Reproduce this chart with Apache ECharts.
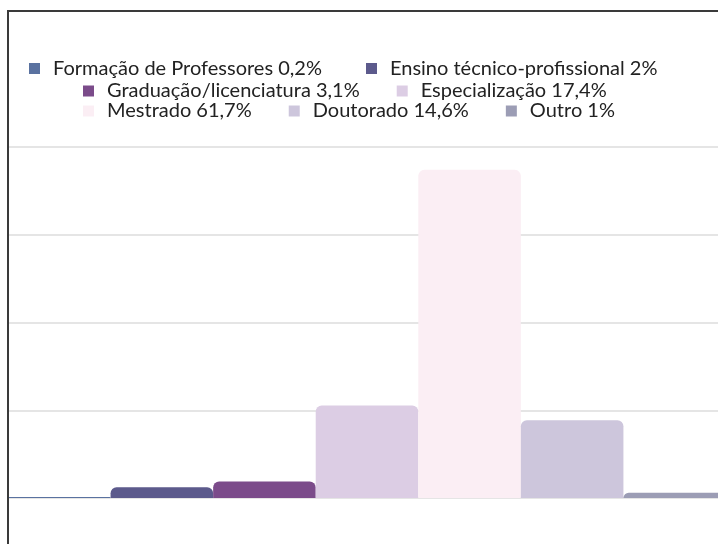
<!DOCTYPE html>
<html>
<head>
<meta charset="utf-8">
<script src="https://cdn.jsdelivr.net/npm/echarts@6/dist/echarts.min.js"></script>
<style>
  html, body { margin: 0; padding: 0; background: #fff; overflow: hidden; }
  #main { width: 726px; height: 544px; }
</style>
</head>
<body>
<div id="main"></div>
<script>
var categories = ['Formação de Professores', 'Ensino técnico-profissional', 'Graduação/licenciatura',
    'Especialização', 'Mestrado', 'Doutorado', 'Outro'];
var labels = ['0,2%', '2%', '3,1%', '17,4%', '61,7%', '14,6%', '1%'];
var values = [0.2, 2, 3.1, 17.4, 61.7, 14.6, 1];
var colors = ['#5a72a0', '#5c5a8c', '#7b4b8a', '#dccde4', '#fbeef4', '#cdc6dc', '#9c9db5'];
var legendRows = [[0, 1], [2, 3], [4, 5, 6]];

var names = categories.map(function(c, i) { return c + ' ' + labels[i]; });

var myChart = echarts.init(document.getElementById('main'));

// the icon sits inside a wider slot so the text starts 24px after it
function makeLegend(row, top, left, gap) {
    return {
        data: row.map(function(i) { return names[i]; }),
        top: top,
        left: left,
        padding: 0,
        itemGap: gap,
        itemWidth: 27,
        itemHeight: 11,
        icon: 'path://M0,0h11v11h-11z',
        selectedMode: false,
        textStyle: {
            fontFamily: 'Lato',
            fontSize: 20,
            lineHeight: 20,
            color: '#222'
        }
    };
}

var option = {
    animation: false,
    graphic: [{
        type: 'rect',
        shape: { x: 8, y: 11, width: 800, height: 600 },
        style: { fill: null, stroke: '#3a3a3a', lineWidth: 2 },
        z: 100
    }],
    legend: [
        makeLegend(legendRows[0], 58.5, 29, 44),
        makeLegend(legendRows[1], 81, 83, 37),
        makeLegend(legendRows[2], 101, 83, 37)
    ],
    grid: {
        left: 8,
        right: 0,
        top: 147,
        bottom: 46
    },
    xAxis: {
        type: 'category',
        data: categories,
        axisLine: { show: false },
        axisTick: { show: false },
        axisLabel: { show: false }
    },
    yAxis: {
        type: 'value',
        min: 0,
        max: 66,
        interval: 16.5,
        axisLabel: { show: false },
        splitLine: { lineStyle: { color: '#dcdcdc', width: 1.5 } }
    },
    series: categories.map(function(c, i) {
        return {
            name: names[i],
            type: 'bar',
            stack: 'total',
            barWidth: '100%',
            itemStyle: { color: colors[i], borderRadius: [6, 6, 0, 0] },
            data: categories.map(function(cc, j) { return j === i ? values[i] : '-'; })
        };
    })
};

myChart.setOption(option);
</script>
</body>
</html>
